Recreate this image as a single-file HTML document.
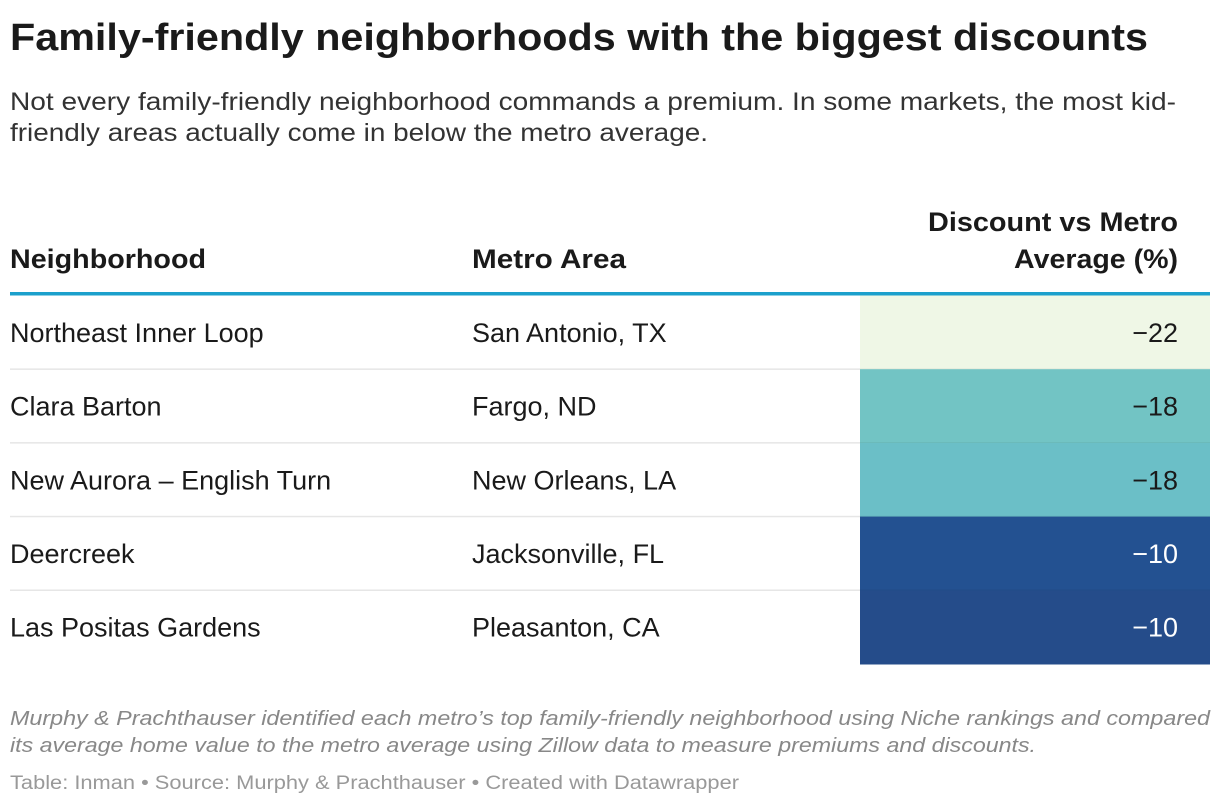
<!DOCTYPE html>
<html><head><meta charset="utf-8"><style>
html,body{margin:0;padding:0;background:#fff;width:1220px;height:806px;overflow:hidden}
svg{display:block;font-family:"Liberation Sans",sans-serif}
</style></head><body>
<svg id="chart" width="1220" height="806" viewBox="0 0 1220 806">
<text x="10" y="50" font-size="38" font-weight="bold" fill="#1a1a1a" textLength="1138" lengthAdjust="spacingAndGlyphs">Family-friendly neighborhoods with the biggest discounts</text>
<text x="10" y="110" font-size="25" fill="#333" textLength="1166" lengthAdjust="spacingAndGlyphs">Not every family-friendly neighborhood commands a premium. In some markets, the most kid-</text>
<text x="10" y="141" font-size="25" fill="#333" textLength="698" lengthAdjust="spacingAndGlyphs">friendly areas actually come in below the metro average.</text>
<g>
<text x="10" y="268" font-size="27" font-weight="bold" fill="#1a1a1a" textLength="196" lengthAdjust="spacingAndGlyphs">Neighborhood</text>
<text x="472" y="268" font-size="27" font-weight="bold" fill="#1a1a1a" textLength="154" lengthAdjust="spacingAndGlyphs">Metro Area</text>
<text x="1178" y="231" font-size="27" font-weight="bold" fill="#1a1a1a" text-anchor="end" textLength="250" lengthAdjust="spacingAndGlyphs">Discount vs Metro</text>
<text x="1178" y="268" font-size="27" font-weight="bold" fill="#1a1a1a" text-anchor="end" textLength="164" lengthAdjust="spacingAndGlyphs">Average (%)</text>
</g>
<g id="rows"></g>
<rect x="10" y="292" width="1200" height="3.5" fill="#1ba0cc"/>
<text x="10" y="725" font-size="20" font-style="italic" fill="#888" textLength="1200" lengthAdjust="spacingAndGlyphs">Murphy &amp; Prachthauser identified each metro’s top family-friendly neighborhood using Niche rankings and compared</text>
<text x="10" y="752" font-size="20" font-style="italic" fill="#888" textLength="1026" lengthAdjust="spacingAndGlyphs">its average home value to the metro average using Zillow data to measure premiums and discounts.</text>
<text x="10" y="789" font-size="19" fill="#999" textLength="729" lengthAdjust="spacingAndGlyphs">Table: Inman • Source: Murphy &amp; Prachthauser  • Created with Datawrapper</text>
</svg>
<script>
const neighborhoods = ["Northeast Inner Loop","Clara Barton","New Aurora – English Turn","Deercreek","Las Positas Gardens"];
const metros = ["San Antonio, TX","Fargo, ND","New Orleans, LA","Jacksonville, FL","Pleasanton, CA"];
const discounts = [-22,-18,-18,-10,-10];
const cellColors = ["#eff7e6","#72c4c4","#6bbfc7","#235191","#254c8a"];

const NS="http://www.w3.org/2000/svg";
const g=document.getElementById('rows');
const top0=295.5, rowH=73.7;
function mk(tag,attrs){const e=document.createElementNS(NS,tag);for(const k in attrs)e.setAttribute(k,attrs[k]);return e;}
neighborhoods.forEach((n,i)=>{
  const y=top0+i*rowH;
  const row=mk('g',{});
  
  
  const cell=mk('rect',{x:860,y:y,width:350,height:rowH+0.5,fill:cellColors[i]});
  
  
  row.appendChild(cell);
  if(i<neighborhoods.length-1){
    const ln=mk('rect',{x:10,y:y+rowH-0.8,width:850,height:1.5,fill:'#e6e6e6'});
    
    
    row.appendChild(ln);
    const ln2=mk('rect',{x:860,y:y+rowH-0.8,width:350,height:1.5,fill:'rgba(0,0,0,0.06)'});
    
    
    row.appendChild(ln2);
  }
  const by=y+rowH/2+9.5;
  const t1=mk('text',{x:10,y:by,'font-size':27,fill:'#1a1a1a'});
  t1.textContent=n;
  
  
  row.appendChild(t1);
  const t2=mk('text',{x:472,y:by,'font-size':27,fill:'#1a1a1a'});
  t2.textContent=metros[i];
  
  
  row.appendChild(t2);
  const dark=discounts[i]>-15;
  const t3=mk('text',{x:1178,y:by,'font-size':27,fill:dark?'#fff':'#1a1a1a','text-anchor':'end'});
  t3.textContent='\u2212'+Math.abs(discounts[i]);
  
  
  row.appendChild(t3);
  g.appendChild(row);
});
</script>
</body></html>
